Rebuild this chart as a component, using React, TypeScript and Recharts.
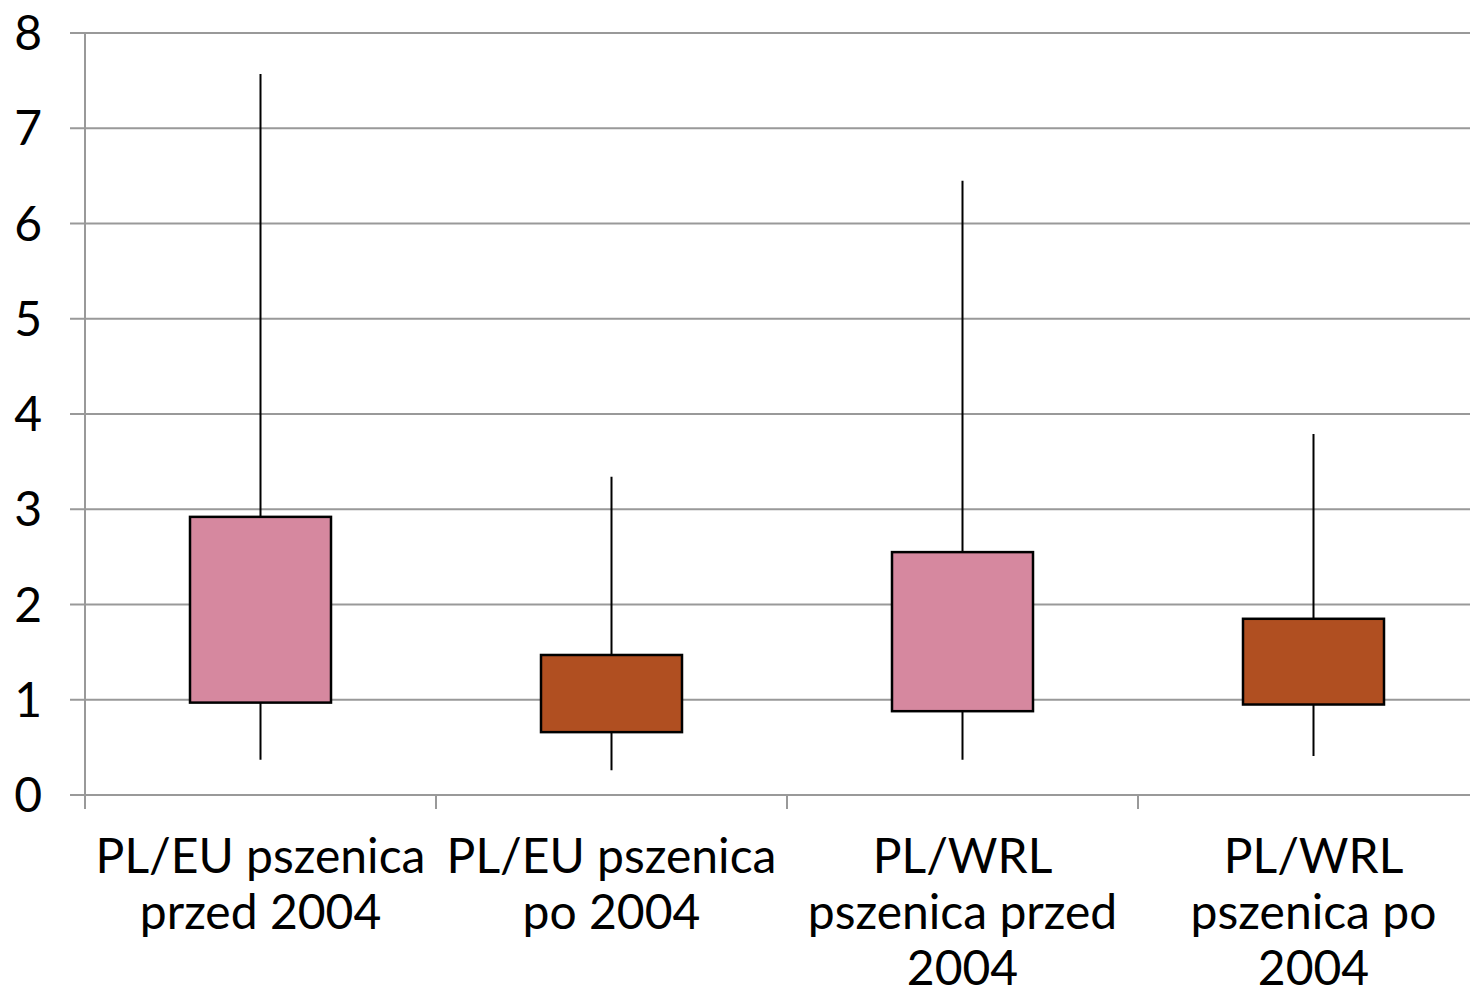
import React from "react"
import { ComposedChart, Bar, Cell, XAxis, YAxis, CartesianGrid } from "recharts"

const categories = [
  "PL/EU pszenica\nprzed 2004",
  "PL/EU pszenica\npo 2004",
  "PL/WRL\npszenica przed\n2004",
  "PL/WRL\npszenica po\n2004",
]
const minValues = [0.37, 0.26, 0.37, 0.41]
const q1Values = [0.97, 0.66, 0.88, 0.95]
const q3Values = [2.92, 1.47, 2.55, 1.85]
const maxValues = [7.57, 3.34, 6.45, 3.79]
const yTicks = [0, 1, 2, 3, 4, 5, 6, 7, 8]

const boxColors = ["#D6889F", "#B04F21", "#D6889F", "#B04F21"]

const data = categories.map((name, i) => ({
  name,
  box: [q1Values[i], q3Values[i]],
  min: minValues[i],
  max: maxValues[i],
  q1: q1Values[i],
  q3: q3Values[i],
}))

const FONT = "Lato, 'DejaVu Sans', sans-serif"
const CHART_W = 1489
const PLOT_LEFT = 85
const BAND = (CHART_W - PLOT_LEFT) / categories.length

function BoxShape(props: any) {
  const { x, y, width, height, fill, payload } = props
  const ppu = height / (payload.q3 - payload.q1)
  const cx = x + width / 2
  const top = y - (payload.max - payload.q3) * ppu
  const bottom = y + height + (payload.q1 - payload.min) * ppu
  return (
    <g>
      <line x1={cx} x2={cx} y1={top} y2={bottom} stroke="#000" strokeWidth={2} />
      <rect x={x} y={y} width={width} height={height} fill={fill} stroke="#000" strokeWidth={2.5} />
    </g>
  )
}

function XTick(props: any) {
  const { x, y, payload } = props
  const lines = String(payload.value).split("\n")
  const left = x - BAND / 2
  return (
    <g>
      <line x1={left} x2={left} y1={y - 8} y2={y + 6} stroke="#999" strokeWidth={2} />
      <text x={x} y={y} textAnchor="middle" fontFamily={FONT} fontSize={48} fill="#000">
        {lines.map((l, i) => (
          <tspan key={i} x={x} y={y + 70 + i * 56}>
            {l}
          </tspan>
        ))}
      </text>
    </g>
  )
}

export default function App() {
  return (
    <div style={{ position: "absolute", left: 0, top: 0, width: 1470, height: 988, overflow: "hidden", background: "#fff" }}>
      <ComposedChart
        width={CHART_W}
        height={988}
        data={data}
        margin={{ top: 33, right: 0, left: 0, bottom: 0 }}
      >
        <CartesianGrid horizontal vertical={false} stroke="#999" strokeWidth={2} />
        <XAxis
          dataKey="name"
          height={193}
          axisLine={{ stroke: "#999", strokeWidth: 2 }}
          tickLine={false}
          interval={0}
          tick={<XTick />}
        />
        <YAxis
          width={PLOT_LEFT}
          domain={[0, 8]}
          ticks={yTicks}
          interval={0}
          axisLine={{ stroke: "#999", strokeWidth: 2 }}
          tickLine={{ stroke: "#999", strokeWidth: 2 }}
          tickSize={15}
          tickMargin={28}
          tick={{ fontFamily: FONT, fontSize: 48, fill: "#000" }}
        />
        <Bar dataKey="box" barSize={141} shape={<BoxShape />} isAnimationActive={false}>
          {data.map((_, i) => (
            <Cell key={i} fill={boxColors[i]} />
          ))}
        </Bar>
      </ComposedChart>
    </div>
  )
}
